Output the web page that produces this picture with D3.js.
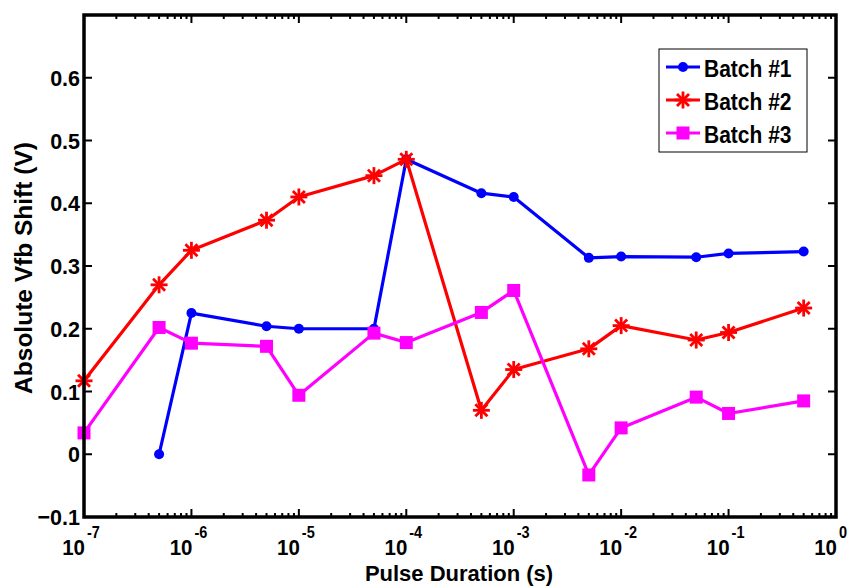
<!DOCTYPE html>
<html>
<head>
  <meta charset="utf-8">
  <script src="https://d3js.org/d3.v7.min.js"></script>
  <style>
    body { margin: 0; background: #fff; }
    text { font-family: "Liberation Sans", Arial, sans-serif; font-weight: bold; fill: #000; }
  </style>
</head>
<body>
<svg width="854" height="588"></svg>
<script>
  // pulse durations (s)
  var durations = [1e-7, 5e-7, 1e-6, 5e-6, 1e-5, 5e-5, 1e-4, 5e-4, 1e-3, 5e-3, 1e-2, 5e-2, 1e-1, 5e-1];

  // absolute Vfb shift (V); null = no point
  var batch1 = [null, 0.0, 0.225, 0.204, 0.200, 0.200, 0.470, 0.416, 0.410, 0.313, 0.315, 0.314, 0.320, 0.323];
  var batch2 = [0.117, 0.270, 0.325, 0.373, 0.410, 0.444, 0.470, 0.070, 0.135, 0.168, 0.205, 0.182, 0.194, 0.233];
  var batch3 = [0.034, 0.202, 0.177, 0.172, 0.094, 0.193, 0.178, 0.226, 0.261, -0.033, 0.042, 0.091, 0.065, 0.085];

  var seriesNames = ["Batch #1", "Batch #2", "Batch #3"];
  var seriesColors = ["#0000ff", "#ff0000", "#ff00ff"];
  var seriesMarkers = ["circle", "asterisk", "square"];
  var yTicks = [-0.1, 0, 0.1, 0.2, 0.3, 0.4, 0.5, 0.6, 0.7];
  var xTickExps = [-7, -6, -5, -4, -3, -2, -1, 0];

  var svg = d3.select("svg");
  var pLeft = 84, pRight = 836, pTop = 15, pBottom = 517;

  var x = d3.scaleLog().domain([1e-7, 1]).range([pLeft, pRight]);
  var y = d3.scaleLinear().domain([-0.1, 0.7]).range([pBottom, pTop]);

  // ticks (inside, both sides)
  var ticksG = svg.append("g").attr("stroke", "#000").attr("stroke-width", 2);
  xTickExps.forEach(function(e) {
    var v = Math.pow(10, e);
    ticksG.append("line").attr("x1", x(v)).attr("x2", x(v)).attr("y1", pBottom).attr("y2", pBottom - 8);
    ticksG.append("line").attr("x1", x(v)).attr("x2", x(v)).attr("y1", pTop).attr("y2", pTop + 8);
    if (e < 0) {
      for (var m = 2; m <= 9; m++) {
        var mv = m * v;
        ticksG.append("line").attr("x1", x(mv)).attr("x2", x(mv)).attr("y1", pBottom).attr("y2", pBottom - 4);
        ticksG.append("line").attr("x1", x(mv)).attr("x2", x(mv)).attr("y1", pTop).attr("y2", pTop + 4);
      }
    }
  });
  yTicks.forEach(function(t) {
    ticksG.append("line").attr("x1", pLeft).attr("x2", pLeft + 8).attr("y1", y(t)).attr("y2", y(t));
    ticksG.append("line").attr("x1", pRight).attr("x2", pRight - 8).attr("y1", y(t)).attr("y2", y(t));
  });

  // y tick labels
  svg.append("g").selectAll("text")
    .data(yTicks.filter(function(t) { return t < 0.65; }))
    .join("text")
      .attr("transform", function(d) { return "translate(" + (pLeft - 4) + "," + (y(d) + 8) + ") scale(1,1.06)"; })
      .attr("text-anchor", "end")
      .style("font-size", "21.5px")
      .text(function(d) { return d === 0 ? "0" : d3.format(".1f")(d); });

  // x tick labels: 10^e
  var xl = svg.append("g").selectAll("g").data(xTickExps).join("g");
  xl.append("text")
    .attr("transform", function(e) { return "translate(" + (x(Math.pow(10, e)) + 1) + ",555) scale(1,1.12)"; })
    .attr("text-anchor", "end")
    .style("font-size", "20.5px")
    .text("10");
  xl.append("text")
    .attr("transform", function(e) { return "translate(" + (x(Math.pow(10, e)) + 3) + ",538) scale(1,1.1)"; })
    .style("font-size", "14.5px")
    .text(function(e) { return String(e); });

  // axis titles
  svg.append("text")
    .attr("x", 459).attr("y", 581)
    .attr("text-anchor", "middle")
    .style("font-size", "22px")
    .text("Pulse Duration (s)");
  svg.append("text")
    .attr("transform", "translate(32,268) rotate(-90)")
    .attr("text-anchor", "middle")
    .style("font-size", "24.5px")
    .text("Absolute Vfb Shift (V)");

  function drawMarker(g, type, color, cx, cy) {
    if (type === "circle") {
      g.append("circle").attr("cx", cx).attr("cy", cy).attr("r", 5).attr("fill", color);
    } else if (type === "square") {
      g.append("rect").attr("x", cx - 6.5).attr("y", cy - 6.5).attr("width", 13).attr("height", 13).attr("fill", color);
    } else {
      var r = 8.5;
      [0, 45, 90, 135].forEach(function(a) {
        var dx = r * Math.cos(a * Math.PI / 180), dy = r * Math.sin(a * Math.PI / 180);
        g.append("line").attr("x1", cx - dx).attr("y1", cy - dy).attr("x2", cx + dx).attr("y2", cy + dy)
          .attr("stroke", color).attr("stroke-width", 2.8);
      });
    }
  }

  var allSeries = [batch1, batch2, batch3];
  var line = d3.line()
    .defined(function(d) { return d[1] !== null; })
    .x(function(d) { return x(d[0]); })
    .y(function(d) { return y(d[1]); });

  allSeries.forEach(function(vals, i) {
    var pts = durations.map(function(d, j) { return [d, vals[j]]; });
    var g = svg.append("g");
    g.append("path").attr("d", line(pts)).attr("fill", "none")
      .attr("stroke", seriesColors[i]).attr("stroke-width", 3.2).attr("stroke-linejoin", "round");
    pts.filter(function(p) { return p[1] !== null; }).forEach(function(p) {
      drawMarker(g, seriesMarkers[i], seriesColors[i], x(p[0]), y(p[1]));
    });
  });

  // frame
  svg.append("rect").attr("x", pLeft).attr("y", pTop).attr("width", pRight - pLeft).attr("height", pBottom - pTop)
    .attr("fill", "none").attr("stroke", "#000").attr("stroke-width", 3.5);

  // legend
  var lg = svg.append("g");
  lg.append("rect").attr("x", 659).attr("y", 49).attr("width", 148).attr("height", 103)
    .attr("fill", "#fff").attr("stroke", "#000").attr("stroke-width", 1);
  seriesNames.forEach(function(name, i) {
    var cy = 67 + i * 33;
    lg.append("line").attr("x1", 666).attr("x2", 700).attr("y1", cy).attr("y2", cy)
      .attr("stroke", seriesColors[i]).attr("stroke-width", 3);
    drawMarker(lg, seriesMarkers[i], seriesColors[i], 683, cy);
    lg.append("text").attr("transform", "translate(704," + (cy + 10) + ") scale(1,1.12)")
      .style("font-size", "21px").text(name);
  });
</script>
</body>
</html>
